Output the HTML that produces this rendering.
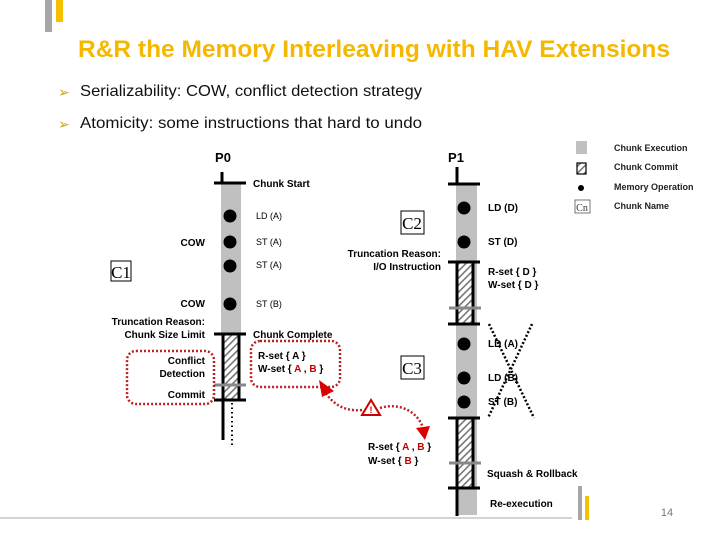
<!DOCTYPE html>
<html><head><meta charset="utf-8"><style>
html,body{margin:0;padding:0;background:#fff;}
svg{display:block;}
</style></head><body>
<svg width="720" height="540" viewBox="0 0 720 540" xmlns="http://www.w3.org/2000/svg" font-family="Liberation Sans, sans-serif">
<defs>
<pattern id="h" patternUnits="userSpaceOnUse" width="5" height="5" patternTransform="rotate(45)">
<rect width="5" height="5" fill="#fff"/><rect width="1.6" height="5" fill="#777"/>
</pattern>
</defs>
<rect x="45" y="0" width="7" height="32" fill="#a6a6a6"/>
<rect x="56" y="0" width="7" height="22" fill="#f5c000"/>
<text x="374" y="57" text-anchor="middle" font-size="24" font-weight="bold" fill="#f5b800" textLength="592" lengthAdjust="spacingAndGlyphs">R&amp;R the Memory Interleaving with HAV Extensions</text>
<text x="58" y="97" font-size="14" fill="#d4a017">➢</text>
<text x="80" y="96" font-size="16" fill="#111" textLength="342" lengthAdjust="spacingAndGlyphs">Serializability: COW, conflict detection strategy</text>
<text x="58" y="129" font-size="14" fill="#d4a017">➢</text>
<text x="80" y="128" font-size="16" fill="#111" textLength="342" lengthAdjust="spacingAndGlyphs">Atomicity: some instructions that hard to undo</text>

<!-- P0 -->
<text x="223" y="162" text-anchor="middle" font-size="13" font-weight="bold">P0</text>
<line x1="222" y1="172" x2="222" y2="183" stroke="#000" stroke-width="3"/>
<rect x="221" y="183" width="20" height="151" fill="#c0c0c0"/>
<rect x="223" y="334" width="15" height="66" fill="url(#h)"/>
<line x1="223" y1="334" x2="223" y2="400" stroke="#000" stroke-width="3"/>
<line x1="239" y1="334" x2="239" y2="400" stroke="#000" stroke-width="3"/>
<line x1="214" y1="183" x2="246" y2="183" stroke="#000" stroke-width="3"/>
<line x1="214" y1="334" x2="246" y2="334" stroke="#000" stroke-width="3"/>
<line x1="214" y1="400" x2="246" y2="400" stroke="#000" stroke-width="3"/>
<line x1="214" y1="385" x2="246" y2="385" stroke="#888" stroke-width="3"/>
<line x1="223" y1="400" x2="223" y2="440" stroke="#000" stroke-width="3"/>
<line x1="232" y1="403" x2="232" y2="446" stroke="#000" stroke-width="2" stroke-dasharray="1.5 3"/>
<g fill="#000"><circle cx="230" cy="216" r="6.5"/><circle cx="230" cy="242" r="6.5"/><circle cx="230" cy="266" r="6.5"/><circle cx="230" cy="304" r="6.5"/></g>
<g font-size="10" font-weight="bold">
<text x="253" y="187">Chunk Start</text>
<text x="253" y="338">Chunk Complete</text>
<text x="205" y="246" text-anchor="end">COW</text>
<text x="205" y="307" text-anchor="end">COW</text>
<text x="205" y="325" text-anchor="end">Truncation Reason:</text>
<text x="205" y="338" text-anchor="end">Chunk Size Limit</text>
<text x="205" y="364" text-anchor="end">Conflict</text>
<text x="205" y="377" text-anchor="end">Detection</text>
<text x="205" y="398" text-anchor="end">Commit</text>
<text x="258" y="359">R-set  { A }</text>
<text x="258" y="372">W-set { <tspan fill="#c00000">A</tspan> , <tspan fill="#c00000">B</tspan> }</text>
</g>
<g font-size="9">
<text x="256" y="219">LD (A)</text>
<text x="256" y="245">ST (A)</text>
<text x="256" y="268">ST (A)</text>
<text x="256" y="307">ST (B)</text>
</g>
<rect x="111" y="261" width="20" height="20" fill="#fff" stroke="#000"/>
<text x="121" y="278" text-anchor="middle" font-size="17" font-family="Liberation Serif, serif">C1</text>

<!-- red dashed boxes -->
<rect x="127" y="351" width="87" height="53" rx="9" fill="none" stroke="#b22" stroke-width="2.5" stroke-dasharray="2 2"/>
<rect x="251" y="341" width="89" height="46" rx="9" fill="none" stroke="#b22" stroke-width="2.5" stroke-dasharray="2 2"/>
<path d="M362 410 C 340 412, 330 400, 323 389" fill="none" stroke="#b22" stroke-width="2.5" stroke-dasharray="2 2"/>
<polygon points="319,380 334,391 322,397" fill="#d00"/>
<path d="M380 408 C 400 402, 418 412, 423 428" fill="none" stroke="#b22" stroke-width="2.5" stroke-dasharray="2 2"/>
<polygon points="416,428 430,426 425,440" fill="#d00"/>
<polygon points="371,400 362,415 380,415" fill="#fff" stroke="#c00" stroke-width="2"/>
<text x="371" y="413" text-anchor="middle" font-size="9" font-weight="bold" fill="#c00">!</text>

<!-- P1 -->
<text x="456" y="162" text-anchor="middle" font-size="13" font-weight="bold">P1</text>
<line x1="457" y1="167" x2="457" y2="184" stroke="#000" stroke-width="3"/>
<rect x="456" y="184" width="21" height="331" fill="#c0c0c0"/>
<rect x="457" y="262" width="16" height="62" fill="url(#h)"/>
<rect x="457" y="418" width="16" height="70" fill="url(#h)"/>
<g stroke="#000" stroke-width="3">
<line x1="457" y1="262" x2="457" y2="324"/><line x1="473" y1="262" x2="473" y2="324"/>
<line x1="457" y1="418" x2="457" y2="488"/><line x1="473" y1="418" x2="473" y2="488"/>
<line x1="457" y1="488" x2="457" y2="516"/>
<line x1="448" y1="184" x2="480" y2="184"/>
<line x1="448" y1="262" x2="480" y2="262"/>
<line x1="448" y1="324" x2="480" y2="324"/>
<line x1="448" y1="418" x2="480" y2="418"/>
<line x1="448" y1="488" x2="480" y2="488"/>
</g>
<line x1="449" y1="308" x2="481" y2="308" stroke="#888" stroke-width="3"/>
<line x1="449" y1="463" x2="481" y2="463" stroke="#888" stroke-width="3"/>
<g fill="#000"><circle cx="464" cy="208" r="6.5"/><circle cx="464" cy="242" r="6.5"/><circle cx="464" cy="344" r="6.5"/><circle cx="464" cy="378" r="6.5"/><circle cx="464" cy="402" r="6.5"/></g>
<g font-size="10" font-weight="bold">
<text x="488" y="211">LD (D)</text>
<text x="488" y="245">ST (D)</text>
<text x="488" y="275">R-set  { D }</text>
<text x="488" y="288">W-set  { D }</text>
<text x="488" y="347">LD (A)</text>
<text x="488" y="381">LD (B)</text>
<text x="488" y="405">ST (B)</text>
<text x="487" y="477">Squash &amp; Rollback</text>
<text x="490" y="507">Re-execution</text>
<text x="441" y="257" text-anchor="end">Truncation Reason:</text>
<text x="441" y="270" text-anchor="end">I/O Instruction</text>
<text x="368" y="450">R-set  { <tspan fill="#c00000">A</tspan> , <tspan fill="#c00000">B</tspan> }</text>
<text x="368" y="464">W-set { <tspan fill="#c00000">B</tspan> }</text>
</g>
<line x1="489" y1="324" x2="534" y2="418" stroke="#000" stroke-width="2.5" stroke-dasharray="2 2"/>
<line x1="532" y1="324" x2="488" y2="418" stroke="#000" stroke-width="2.5" stroke-dasharray="2 2"/>
<rect x="401" y="211" width="23" height="23" fill="#fff" stroke="#000"/>
<text x="412" y="229" text-anchor="middle" font-size="17" font-family="Liberation Serif, serif">C2</text>
<rect x="401" y="356" width="23" height="23" fill="#fff" stroke="#000"/>
<text x="412" y="374" text-anchor="middle" font-size="17" font-family="Liberation Serif, serif">C3</text>

<!-- legend -->
<rect x="576" y="141" width="11" height="13" fill="#c0c0c0"/>
<rect x="577" y="163" width="9" height="11" fill="url(#h)" stroke="#000" stroke-width="1.2"/>
<circle cx="581" cy="188" r="3" fill="#000"/>
<rect x="575" y="200" width="15" height="13" fill="#fff" stroke="#555" stroke-width="0.8"/>
<text x="582" y="211" text-anchor="middle" font-size="10" font-family="Liberation Serif, serif" fill="#333">Cn</text>
<g font-size="9" font-weight="bold" fill="#222">
<text x="614" y="151">Chunk Execution</text>
<text x="614" y="170">Chunk Commit</text>
<text x="614" y="190">Memory Operation</text>
<text x="614" y="209">Chunk Name</text>
</g>

<line x1="0" y1="518" x2="572" y2="518" stroke="#aaa" stroke-width="1"/>
<rect x="578" y="486" width="4" height="34" fill="#a6a6a6"/>
<rect x="585" y="496" width="4" height="24" fill="#f5c000"/>
<text x="667" y="516" text-anchor="middle" font-size="11" fill="#777">14</text>
</svg>
</body></html>
